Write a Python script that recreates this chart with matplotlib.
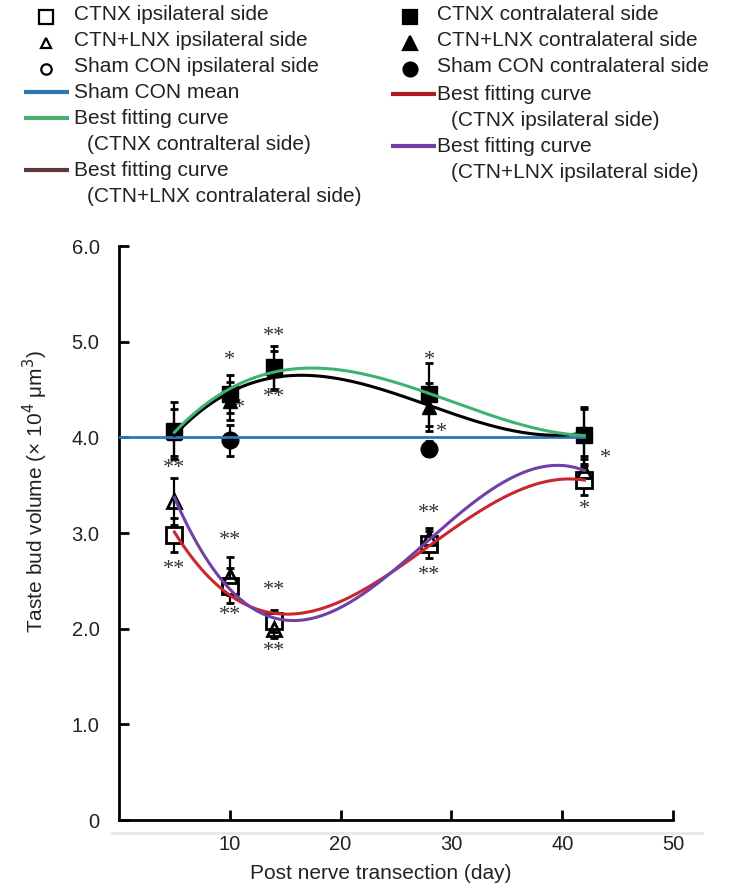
import numpy as np
import matplotlib
matplotlib.use("Agg")
import matplotlib.pyplot as plt
from matplotlib.lines import Line2D

plt.rcParams['font.family'] = ['Liberation Sans', 'DejaVu Sans']

# ---------------- data ----------------
days = [5, 10, 14, 28, 42]

ctnx_contra = [4.07, 4.45, 4.73, 4.45, 4.02]
ctnx_contra_err = [0.30, 0.20, 0.22, 0.33, 0.30]

ctnlnx_contra = [4.05, 4.38, 4.70, 4.32, 4.05]
ctnlnx_contra_err = [0.25, 0.20, 0.20, 0.25, 0.25]

sham_days = [10, 28]
sham_contra = [3.97, 3.88]
sham_contra_err = [0.16, 0.08]

ctnx_ipsi = [2.98, 2.45, 2.08, 2.88, 3.55]
ctnx_ipsi_err = [0.18, 0.18, 0.12, 0.14, 0.15]

ctnlnx_ipsi = [3.33, 2.55, 2.00, 2.95, 3.65]
ctnlnx_ipsi_err = [0.25, 0.20, 0.10, 0.10, 0.12]

sham_mean = 4.0
sham_mean_range = [0, 42]

# significance marks: (day, value, label)
sig_x = [5, 5, 10, 10.9, 10, 10, 14, 14, 14, 14, 28, 29.1, 28, 28, 43.9, 42]
sig_y = [3.67, 2.62, 4.80, 4.30, 2.92, 2.14, 5.05, 4.42, 2.40, 1.76, 4.80, 4.05, 3.20, 2.56, 3.78, 3.25]
sig_t = ['**', '**', '*', '*', '**', '**', '**', '**', '**', '**', '*', '*', '**', '**', '*', '*']

# ---------------- figure ----------------
W, H = 737, 891
fig = plt.figure(figsize=(W / 100, H / 100), dpi=100)
x0, x1 = 119, 673
y0, y6 = 820, 246
ax = fig.add_axes([x0 / W, 1 - y0 / H, (x1 - x0) / W, (y0 - y6) / H])

ebkw = dict(ecolor='black', elinewidth=1.6, capsize=3, capthick=2, linestyle='none', zorder=3)

ax.errorbar(sham_days, sham_contra, yerr=sham_contra_err, marker='o', ms=12,
            mfc='black', mec='black', **ebkw)
ax.errorbar(days, ctnlnx_contra, yerr=ctnlnx_contra_err, marker='^', ms=10,
            mfc='black', mec='black', **ebkw)
ax.errorbar(days, ctnx_contra, yerr=ctnx_contra_err, marker='s', ms=11,
            mfc='black', mec='black', **ebkw)
ax.errorbar(days, ctnx_ipsi, yerr=ctnx_ipsi_err, marker='s', ms=11,
            mfc='white', mec='black', mew=2, **ebkw)
ax.errorbar(days, ctnlnx_ipsi, yerr=ctnlnx_ipsi_err, marker='^', ms=10,
            mfc='none', mec='black', mew=2, **ebkw)

# best fitting curves (cubic least-squares fits of the plotted means)
xf = np.linspace(days[0], days[-1], 200)
def fit(vals):
    return np.polyval(np.polyfit(days, vals, 3), xf)

ax.plot(sham_mean_range, [sham_mean, sham_mean], color='#2a78b8', lw=2, zorder=4)
ax.plot(xf, fit(ctnlnx_contra), color='black', lw=2.2, zorder=4)
ax.plot(xf, fit(ctnx_contra), color='#3cb371', lw=2.2, zorder=5)
ax.plot(xf, fit(ctnx_ipsi), color='#c8282d', lw=2.2, zorder=4)
ax.plot(xf, fit(ctnlnx_ipsi), color='#7040a8', lw=2.2, zorder=5)

for sx, sy, st in zip(sig_x, sig_y, sig_t):
    ax.text(sx, sy, st, ha='center', va='center', fontsize=16,
            family='Liberation Serif', color='#333333')

ax.set_xlim(0, 50)
ax.set_ylim(0, 6)
ax.set_xticks([10, 20, 30, 40, 50])
ax.set_yticks([0, 1, 2, 3, 4, 5, 6])
ax.set_yticklabels(['0', '1.0', '2.0', '3.0', '4.0', '5.0', '6.0'])
for s in ['top', 'right']:
    ax.spines[s].set_visible(False)
for s in ['left', 'bottom']:
    ax.spines[s].set_linewidth(2)
ax.tick_params(direction='in', length=7, width=2, labelsize=14.5, colors='black',
               labelcolor='#222222')
ax.tick_params(axis='y', pad=14)
ax.tick_params(axis='x', pad=11)
ax.set_xlabel('Post nerve transection (day)', fontsize=15, color='#222222')
ax.set_ylabel('Taste bud volume (× 10$^4$ μm$^3$)', fontsize=15, color='#222222')
ax.xaxis.set_label_coords(0.473, -0.077)
ax.yaxis.set_label_coords(-0.124, 0.573)

# faint line beneath x-axis
fig.add_artist(Line2D([112 / W, 702 / W], [1 - 833 / H] * 2, color='#e8e8e8', lw=2))

# ---------------- legend (manual, pixel layout) ----------------
lg = fig.add_axes([0, 0, 1, 1], facecolor='none')
lg.set_xlim(0, W)
lg.set_ylim(H, 0)
lg.axis('off')

fs = 15
def mk(x, y, m, filled, ms):
    lg.plot([x], [y], marker=m, ms=ms, mfc='black' if filled else 'white',
            mec='black', mew=1.6, linestyle='none')

def ln(x0_, x1_, y, c):
    lg.plot([x0_, x1_], [y, y], color=c, lw=3, solid_capstyle='butt')

def tx(x, y, s):
    lg.text(x, y, s, fontsize=fs, va='center', ha='left', color='#222222')

L_mk, L_tx = 46, 74
R_mk, R_tx = 410, 437
mk(L_mk, 17, 's', False, 9.5); tx(L_tx, 15, 'CTNX ipsilateral side')
mk(L_mk, 43, '^', False, 7.5); tx(L_tx, 40, 'CTN+LNX ipsilateral side')
mk(L_mk, 69, 'o', False, 7.5); tx(L_tx, 66, 'Sham CON ipsilateral side')
ln(24, 69, 92, '#2a78b8'); tx(L_tx, 92, 'Sham CON mean')
ln(24, 69, 118, '#4caf72'); tx(L_tx, 118, 'Best fitting curve')
tx(L_tx + 13, 144, '(CTNX contralteral side)')
ln(24, 69, 170, '#5c3a3a'); tx(L_tx, 170, 'Best fitting curve')
tx(L_tx + 13, 196, '(CTN+LNX contralateral side)')

mk(R_mk, 17, 's', True, 10.5); tx(R_tx, 15, 'CTNX contralateral side')
mk(R_mk, 43, '^', True, 10); tx(R_tx, 41, 'CTN+LNX contralateral side')
mk(R_mk, 69, 'o', True, 10); tx(R_tx, 67, 'Sham CON contralateral side')
ln(391, 436, 94, '#b01c22'); tx(R_tx, 94, 'Best fitting curve')
tx(R_tx + 14, 120, '(CTNX ipsilateral side)')
ln(391, 436, 146, '#7040a8'); tx(R_tx, 146, 'Best fitting curve')
tx(R_tx + 14, 172, '(CTN+LNX ipsilateral side)')

fig.savefig('out.png', dpi=100)
